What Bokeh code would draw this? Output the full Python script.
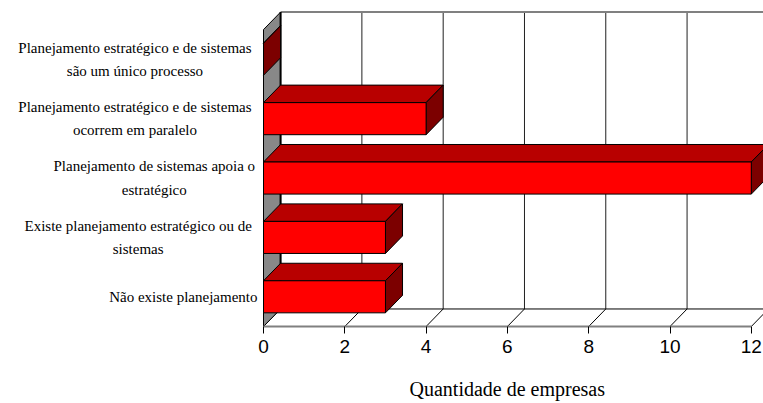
from bokeh.plotting import figure
from bokeh.models import ColumnDataSource, FixedTicker, Range1d, Title
from bokeh.embed import file_html
from bokeh.resources import INLINE
from bokeh.core.properties import value

# Survey answers (bottom to top) and number of companies per answer
categories = [
    "Não existe planejamento",
    "Existe planejamento estratégico ou de\nsistemas",
    "Planejamento de sistemas apoia o\nestratégico",
    "Planejamento estratégico e de sistemas\nocorrem em paralelo",
    "Planejamento estratégico e de sistemas\nsão um único processo",
]
companies = [3, 3, 12, 4, 0]
x_ticks = [0, 2, 4, 6, 8, 10, 12]
x_title = "Quantidade de empresas"

# 3-D look: depth offset of the back plane (data units) and bar half height
DX, DY = 0.42, 0.295
BH = 0.27
X_MAX = max(x_ticks)
Y_LO, Y_HI = -0.5, len(categories) - 0.5

FRONT = "#FF0000"
TOP = "#B80000"
SIDE = "#7C0000"
WALL = "#888888"

p = figure(
    width=763, height=403,
    x_range=Range1d(-6.47, 12.3), y_range=Range1d(-0.5, 4.99),
    y_axis_type=None, toolbar_location=None, output_backend="svg",
    min_border_left=0, min_border_right=0, min_border_top=0, min_border_bottom=77,
)
p.outline_line_color = None
p.xgrid.visible = False

# back wall
p.quad(left=DX, right=X_MAX + DX, bottom=Y_LO + DY, top=Y_HI + DY,
       fill_color="white", line_color=None)
p.segment(x0=[t + DX for t in x_ticks[1:]], y0=Y_LO + DY,
          x1=[t + DX for t in x_ticks[1:]], y1=Y_HI + DY,
          line_color="#202020", line_width=1)
p.segment(x0=DX, y0=Y_HI + DY, x1=X_MAX + DX + 1, y1=Y_HI + DY,
          line_color="#808080", line_width=2)

# floor
p.segment(x0=DX, y0=Y_LO + DY, x1=X_MAX + DX + 1, y1=Y_LO + DY,
          line_color="black", line_width=1)
p.segment(x0=x_ticks, y0=Y_LO, x1=[t + DX for t in x_ticks], y1=Y_LO + DY,
          line_color="black", line_width=1)

# left wall
p.patch(x=[0, DX, DX, 0], y=[Y_LO, Y_LO + DY, Y_HI + DY, Y_HI],
        fill_color=WALL, line_color="black", line_width=1)
p.segment(x0=DX, y0=Y_LO + DY, x1=DX, y1=Y_HI + DY, line_color="black", line_width=2)

# bars: top face, side face, front face
ys = list(range(len(categories)))
top_xs, top_ys, side_xs, side_ys = [], [], [], []
for i, v in zip(ys, companies):
    top_xs.append([0, v, v + DX, DX])
    top_ys.append([i + BH, i + BH, i + BH + DY, i + BH + DY])
    side_xs.append([v, v + DX, v + DX, v])
    side_ys.append([i - BH, i - BH + DY, i + BH + DY, i + BH])
p.patches(xs=top_xs, ys=top_ys, fill_color=TOP, line_color="black", line_width=1)
p.patches(xs=side_xs, ys=side_ys, fill_color=SIDE, line_color="black", line_width=1)
bars = ColumnDataSource(dict(y=ys, v=companies))
p.hbar(y="y", left=0, right="v", height=2 * BH, source=bars,
       fill_color=FRONT, line_color="black", line_width=1)

# category labels, centred block ending just left of the wall
char_px = 6.45
offsets = [-6 - char_px * max(len(s) for s in c.split("\n")) / 2 for c in categories]
labels = ColumnDataSource(dict(x=[0] * len(categories), y=ys, text=categories, xo=offsets))
p.text(x="x", y="y", text="text", x_offset="xo", source=labels,
       text_align="center", text_baseline="middle", text_line_height=1.45,
       text_font=value("Liberation Serif"), text_font_size="15px", text_color="black")

# value axis
ax = p.xaxis[0]
ax.ticker = FixedTicker(ticks=x_ticks)
ax.bounds = (0, X_MAX)
ax.axis_line_color = "#808080"
ax.axis_line_width = 2
ax.major_tick_in = 0
ax.major_tick_out = 7
ax.major_tick_line_color = "black"
ax.minor_tick_line_color = None
ax.major_label_standoff = 6
ax.major_label_text_font = "Liberation Sans"
ax.major_label_text_font_size = "19px"
ax.major_label_text_color = "black"

# axis title under the value scale
p.add_layout(Title(text=x_title, align="left", offset=409, standoff=4,
                   padding=(0, 0, 18, 0), text_line_height=0.9,
                   text_font="Liberation Serif", text_font_size="20px",
                   text_font_style="normal", text_color="black"), "below")

open("out.html", "w").write(file_html(p, INLINE))
